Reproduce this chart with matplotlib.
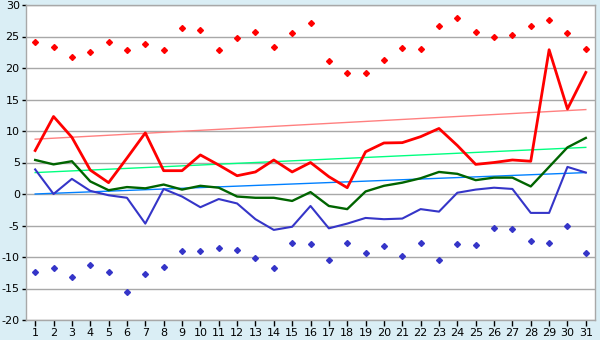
import matplotlib
matplotlib.use("Agg")
import matplotlib.pyplot as plt

plt.rcParams["axes.unicode_minus"] = False

days = list(range(1, 32))

max_extreme = [24.1, 23.3, 21.7, 22.6, 24.2, 22.8, 23.8, 22.8, 26.3, 26.1,
               22.8, 24.7, 25.7, 23.3, 25.5, 27.1, 21.1, 19.2, 19.2, 21.2,
               23.1, 23.0, 26.6, 27.9, 25.7, 25.0, 25.3, 26.6, 27.6, 25.5, 23.0]
max_mean = [6.9, 12.3, 9.0, 3.8, 1.8, 5.7, 9.7, 3.7, 3.7, 6.2,
            4.6, 2.9, 3.5, 5.4, 3.5, 5.0, 2.75, 1.0, 6.7, 8.1,
            8.15, 9.1, 10.4, 7.7, 4.7, 5.0, 5.4, 5.2, 22.9, 13.5, 19.3]
mean_temp = [5.4, 4.7, 5.2, 2.0, 0.6, 1.1, 0.9, 1.5, 0.7, 1.3,
             1.0, -0.4, -0.6, -0.6, -1.1, 0.3, -1.9, -2.4, 0.4, 1.3,
             1.8, 2.5, 3.5, 3.2, 2.2, 2.6, 2.6, 1.2, 4.3, 7.4, 8.9]
min_mean = [3.9, 0.0, 2.4, 0.5, -0.2, -0.6, -4.7, 0.8, -0.4, -2.1,
            -0.8, -1.5, -4.0, -5.7, -5.2, -1.9, -5.45, -4.7, -3.8, -4.0,
            -3.9, -2.4, -2.8, 0.2, 0.7, 1.0, 0.8, -3.0, -3.0, 4.3, 3.4]
min_extreme = [-12.4, -11.8, -13.1, -11.3, -12.4, -15.6, -12.75, -11.6, -9.1, -9.1,
               -8.6, -8.9, -10.2, -11.8, -7.7, -8.0, -10.5, -7.7, -9.4, -8.3,
               -9.9, -7.8, -10.5, -8.0, -8.1, -5.45, -5.6, -7.5, -7.7, -5.1, -9.4]

# normals: straight lines read at day 1 and day 31
normal_days = [1, 31]
normal_max = [8.7, 13.4]
normal_mean = [3.4, 7.4]
normal_min = [0.0, 3.4]

y_ticks = [-20, -15, -10, -5, 0, 5, 10, 15, 20, 25, 30]

bg = "#daeef5"
fig = plt.figure(figsize=(6, 3.4), dpi=100, facecolor=bg)
ax = fig.add_axes([26/600, 20/340, 569/600, 315/340])
ax.set_facecolor("white")

ax.set_xlim(0.5, 31.5)
ax.set_ylim(-20, 30)
ax.set_yticks(y_ticks)
ax.set_xticks(days)
ax.grid(axis="y", color="#a8a8a8", linewidth=1)
ax.set_axisbelow(True)

ax.plot(normal_days, normal_max, color="#ff8080", linewidth=1)
ax.plot(normal_days, normal_mean, color="#00ff80", linewidth=1)
ax.plot(normal_days, normal_min, color="#0080ff", linewidth=1)

ax.plot(days, min_mean, color="#3535c8", linewidth=1.5)
ax.plot(days, mean_temp, color="#006400", linewidth=1.7)
ax.plot(days, max_mean, color="#ff0000", linewidth=2)

ax.plot(days, max_extreme, linestyle="none", marker="D", markersize=3,
        color="#ff0000")
ax.plot(days, min_extreme, linestyle="none", marker="D", markersize=3,
        color="#3535c8")

for s in ax.spines.values():
    s.set_color("#a8a8a8")
    s.set_linewidth(1)

ax.tick_params(axis="both", colors="black", labelsize=8, length=4,
               width=1, pad=2)
ax.tick_params(axis="y", length=3, pad=1.5)

fig.savefig("out.png", dpi=100, facecolor=bg)
